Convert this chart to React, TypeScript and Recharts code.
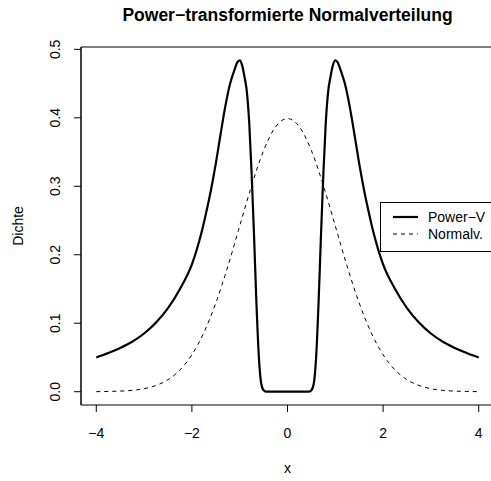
import React from "react";
import { LineChart, Line, XAxis, YAxis, ReferenceArea } from "recharts";

// Power-transformierte Dichte
const powerX = [
  -4, -3.75, -3.5, -3.25, -3, -2.75, -2.5, -2.25, -2, -1.9, -1.8, -1.7, -1.6, -1.5, -1.4, -1.3, -1.2, -1.1,
  -1.05, -1, -0.95, -0.9, -0.85, -0.8, -0.75, -0.7, -0.65, -0.6, -0.55, -0.5, -0.45, 0, 0.45, 0.5, 0.55,
  0.6, 0.65, 0.7, 0.75, 0.8, 0.85, 0.9, 0.95, 1, 1.05, 1.1, 1.2, 1.3, 1.4, 1.5, 1.6, 1.7, 1.8, 1.9, 2,
  2.25, 2.5, 2.75, 3, 3.25, 3.5, 3.75, 4,
];
const powerY = [
  0.05, 0.0565, 0.064, 0.073, 0.085, 0.101, 0.122, 0.15, 0.186, 0.207, 0.232, 0.262, 0.295, 0.333, 0.376,
  0.417, 0.45, 0.472, 0.481, 0.484, 0.477, 0.46, 0.438, 0.392, 0.318, 0.228, 0.13, 0.052, 0.012, 0.002, 0,
  0, 0, 0.002, 0.012, 0.052, 0.13, 0.228, 0.318, 0.392, 0.438, 0.46, 0.477, 0.484, 0.481, 0.472, 0.45,
  0.417, 0.376, 0.333, 0.295, 0.262, 0.232, 0.207, 0.186, 0.15, 0.122, 0.101, 0.085, 0.073, 0.064, 0.0565,
  0.05,
];

// Normalverteilung (gestrichelt)
const normalX = [
  -4, -3.75, -3.5, -3.25, -3, -2.75, -2.5, -2.25, -2, -1.75, -1.5, -1.25, -1, -0.75, -0.5, -0.25, 0,
  0.25, 0.5, 0.75, 1, 1.25, 1.5, 1.75, 2, 2.25, 2.5, 2.75, 3, 3.25, 3.5, 3.75, 4,
];
const normalY = [
  0.0001, 0.0004, 0.0009, 0.002, 0.0044, 0.0091, 0.0175, 0.0317, 0.054, 0.0863, 0.1295, 0.1826, 0.242,
  0.3011, 0.3521, 0.3867, 0.3989, 0.3867, 0.3521, 0.3011, 0.242, 0.1826, 0.1295, 0.0863, 0.054, 0.0317,
  0.0175, 0.0091, 0.0044, 0.002, 0.0009, 0.0004, 0.0001,
];

const xTicks = [-4, -2, 0, 2, 4];
const yTicks = [0, 0.1, 0.2, 0.3, 0.4, 0.5];

const powerData = powerX.map((x, i) => ({ x, y: powerY[i] }));
const normalData = normalX.map((x, i) => ({ x, y: normalY[i] }));

const FONT = "'Liberation Sans', Arial, Helvetica, sans-serif";
const X_DOMAIN: [number, number] = [-4.32, 4.32];
const Y_DOMAIN: [number, number] = [-0.0194, 0.5034];

const minus = (v: number) => String(v).replace("-", "\u2212");

function XTick(props: any) {
  const { x, payload } = props;
  return (
    <text x={x} y={433} textAnchor="middle" dominantBaseline="central" fontSize={14} fontFamily={FONT} fill="#000">
      {minus(payload.value)}
    </text>
  );
}

function YTick(props: any) {
  const { y, payload } = props;
  return (
    <text
      x={55}
      y={y}
      transform={`rotate(-90, 55, ${y})`}
      textAnchor="middle"
      dominantBaseline="central"
      fontSize={14}
      fontFamily={FONT}
      fill="#000"
    >
      {Number(payload.value).toFixed(1)}
    </text>
  );
}

export default function App() {
  return (
    <div style={{ position: "absolute", left: 0, top: 0, width: 491, height: 481, overflow: "hidden", background: "#fff" }}>
      <LineChart width={500} height={481} margin={{ top: 47, right: 6, bottom: 0, left: 0 }}>
        <XAxis
          dataKey="x"
          type="number"
          domain={X_DOMAIN}
          ticks={xTicks}
          allowDataOverflow
          axisLine={false}
          tickSize={7}
          tickLine={{ stroke: "#000" }}
          tick={<XTick />}
          height={76}
        />
        <YAxis
          type="number"
          domain={Y_DOMAIN}
          ticks={yTicks}
          allowDataOverflow
          axisLine={{ stroke: "#000" }}
          tickSize={7}
          tickLine={{ stroke: "#000" }}
          tick={<YTick />}
          width={81}
        />
        <ReferenceArea
          x1={X_DOMAIN[0]}
          x2={X_DOMAIN[1]}
          y1={Y_DOMAIN[0]}
          y2={Y_DOMAIN[1]}
          fill="none"
          stroke="#000"
          strokeWidth={1}
          ifOverflow="visible"
        />
        <Line
          data={normalData}
          dataKey="y"
          type="monotone"
          stroke="#000"
          strokeWidth={1}
          strokeDasharray="4 4"
          dot={false}
          isAnimationActive={false}
        />
        <Line
          data={powerData}
          dataKey="y"
          type="monotone"
          stroke="#000"
          strokeWidth={2.2}
          dot={false}
          isAnimationActive={false}
        />
      </LineChart>
      <svg width={491} height={481} style={{ position: "absolute", left: 0, top: 0, pointerEvents: "none" }}>
        <text x={287.5} y={15} textAnchor="middle" dominantBaseline="central" fontSize={17.5} fontWeight="bold" fontFamily={FONT}>
          Power−transformierte Normalverteilung
        </text>
        <text x={287.5} y={468} textAnchor="middle" dominantBaseline="central" fontSize={14} fontFamily={FONT}>
          x
        </text>
        <text
          x={18}
          y={226}
          transform="rotate(-90, 18, 226)"
          textAnchor="middle"
          dominantBaseline="central"
          fontSize={14}
          fontFamily={FONT}
        >
          Dichte
        </text>
        <rect x={380.5} y={202.5} width={130} height={49} fill="#fff" stroke="#000" strokeWidth={1} />
        <line x1={393} x2={418} y1={217} y2={217} stroke="#000" strokeWidth={2.2} />
        <line x1={393} x2={418} y1={234} y2={234} stroke="#000" strokeWidth={1} strokeDasharray="4 4" />
        <text x={428} y={217} dominantBaseline="central" fontSize={14} fontFamily={FONT}>
          Power−V
        </text>
        <text x={428} y={234} dominantBaseline="central" fontSize={14} fontFamily={FONT}>
          Normalv.
        </text>
      </svg>
    </div>
  );
}
